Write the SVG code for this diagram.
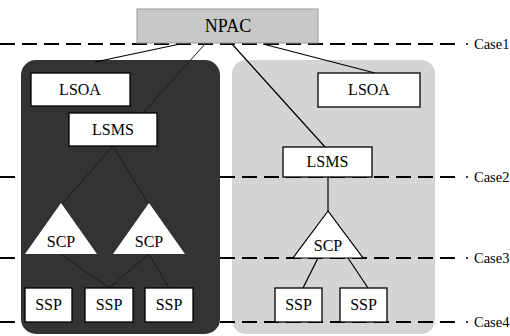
<svg xmlns="http://www.w3.org/2000/svg" width="510" height="336" viewBox="0 0 510 336">
<style>
.box{fill:#ffffff;stroke:#000;stroke-width:1.3}
.tri{fill:#ffffff;stroke:none}
text{font-family:'Liberation Serif','Times New Roman',Times,serif;fill:#000}
.t{font-size:16px;text-anchor:middle}
.case{font-size:14.5px}
.dash{stroke:#000;stroke-width:2;stroke-dasharray:15 7;fill:none}
.con{stroke:#000;stroke-width:1.2;fill:none}
.con2{stroke:#1a1a1a;stroke-width:1;fill:none}
</style>
<rect width="510" height="336" fill="#ffffff"/>
<g id="panel-right"><rect x="232" y="60" width="203" height="274" rx="14" fill="#d4d4d4"/></g>
<g id="case-lines">
<line class="dash" x1="0" y1="44" x2="461" y2="44"/>
<line class="dash" x1="0" y1="177" x2="461" y2="177"/>
<line class="dash" x1="0" y1="258" x2="461" y2="258"/>
<line class="dash" x1="0" y1="322" x2="461" y2="322"/>
<circle cx="467" cy="44" r="1" fill="#000"/>
<circle cx="467" cy="177" r="1" fill="#000"/>
<circle cx="467" cy="258" r="1" fill="#000"/>
<circle cx="467" cy="322" r="1" fill="#000"/>
<text class="case" x="474" y="49">Case1</text>
<text class="case" x="474" y="182">Case2</text>
<text class="case" x="474" y="263">Case3</text>
<text class="case" x="474" y="327">Case4</text>
</g>
<g id="panel-left"><rect x="21" y="60" width="199" height="274" rx="15" fill="#333333"/></g>
<g id="connectors">
<line class="con" x1="180" y1="44" x2="95" y2="62"/>
<line class="con2" x1="205" y1="44" x2="143" y2="113"/>
<line class="con" x1="232" y1="44" x2="325" y2="147"/>
<line class="con" x1="263" y1="44" x2="375" y2="73"/>
<line class="con2" x1="113" y1="146" x2="61" y2="205"/>
<line class="con2" x1="113" y1="146" x2="149" y2="205"/>
<line class="con2" x1="61" y1="254" x2="109" y2="288"/>
<line class="con2" x1="149" y1="254" x2="109" y2="288"/>
<line class="con2" x1="149" y1="254" x2="169" y2="288"/>
<line class="con" x1="328" y1="177" x2="328" y2="212"/>
<line class="con" x1="318" y1="258" x2="303" y2="288"/>
<line class="con" x1="348" y1="258" x2="368" y2="288"/>
</g>
<g id="npac"><rect x="137" y="9" width="181" height="34" fill="#c8c8c8" stroke="#999" stroke-width="1"/><text class="t" x="228" y="32" style="font-size:18px">NPAC</text></g>
<g id="lsoa-left"><rect class="box" x="31" y="73" width="99" height="33"/><text class="t" x="80" y="95">LSOA</text></g>
<g id="lsms-left"><rect class="box" x="69" y="113" width="88" height="33"/><text class="t" x="113" y="135">LSMS</text></g>
<g id="scp-left-1"><polygon class="tri" points="61,203 25,254 97,254"/><text class="t" x="61" y="247">SCP</text></g>
<g id="scp-left-2"><polygon class="tri" points="149,203 113,254 185,254"/><text class="t" x="149" y="247">SCP</text></g>
<g id="ssp-left-1"><rect class="box" x="25" y="288" width="47" height="34"/><text class="t" x="48.5" y="310">SSP</text></g>
<g id="ssp-left-2"><rect class="box" x="85" y="288" width="48" height="34"/><text class="t" x="109" y="310">SSP</text></g>
<g id="ssp-left-3"><rect class="box" x="145" y="288" width="48" height="34"/><text class="t" x="169" y="310">SSP</text></g>
<g id="lsoa-right"><rect class="box" x="318" y="73" width="102" height="34"/><text class="t" x="369" y="95">LSOA</text></g>
<g id="lsms-right"><rect class="box" x="283" y="147" width="89" height="30"/><text class="t" x="327.5" y="167">LSMS</text></g>
<g id="scp-right"><polygon points="328,211 293,258 363,258" fill="#fff" stroke="#000" stroke-width="1.2"/><text class="t" x="328" y="251">SCP</text></g>
<g id="ssp-right-1"><rect class="box" x="275" y="288" width="47" height="34"/><text class="t" x="298.5" y="310">SSP</text></g>
<g id="ssp-right-2"><rect class="box" x="340" y="288" width="47" height="34"/><text class="t" x="363.5" y="310">SSP</text></g>
</svg>
